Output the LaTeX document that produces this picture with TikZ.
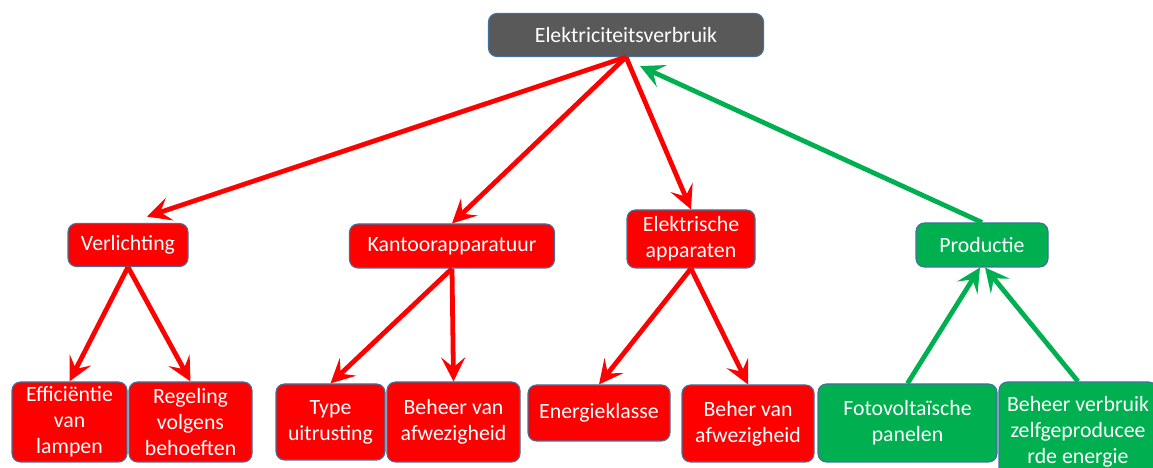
\documentclass[tikz,border=0pt]{standalone}
\usepackage{fontspec}
\setmainfont{Carlito}
\usepackage{tkz-euclide}
\usepackage{tikz}
\usetikzlibrary{arrows.meta}

\definecolor{rood}{HTML}{FF0000}
\definecolor{groen}{HTML}{00B050}
\definecolor{grijs}{HTML}{595959}
\definecolor{rand}{HTML}{41719C}

\tikzset{
  blok/.style={draw=rand, line width=0.8pt, rounded corners=6pt, text=white,
    align=center, inner sep=2pt, font=\fontsize{15.5}{18.5}\selectfont},
  rblok/.style={blok, fill=rood},
  gblok/.style={blok, fill=groen},
  pijl/.style={line width=3.4pt, -{Stealth[length=17pt, width=17pt, inset=7pt]}},
}

\begin{document}
\begin{tikzpicture}[scale=1]
    \useasboundingbox (0,0) rectangle (28.825,11.7);
    \tkzDefPoints{15.65/10.825/A,3.2/5.575/B,11.3/5.55/C,17.275/5.725/D,24.55/5.575/F}
    \tkzDefPoints{1.7375/1.15/G,4.7625/1.15/H,8.2625/1.15/I,11.3375/1.15/J}
    \tkzDefPoints{14.975/1.375/K,18.7/1.1125/L,22.6875/1.125/M,26.95/0.9/N}
    \node[blok, fill=grijs, minimum width=6.875cm, minimum height=1.075cm] (verbruik) at (A) {Elektriciteitsverbruik};
    \node[rblok, minimum width=3cm, minimum height=1.075cm] (verlichting) at (B) {Verlichting};
    \node[rblok, minimum width=5.125cm, minimum height=1.1cm] (kantoor) at (C) {Kantoorapparatuur};
    \node[rblok, minimum width=3.2cm, minimum height=1.45cm] (apparaten) at (D) {Elektrische\\apparaten};
    \node[gblok, minimum width=3.3cm, minimum height=1.1cm] (productie) at (F) {Productie};
    \node[rblok, minimum width=2.875cm, minimum height=2cm] (efficientie) at (G) {Efficiëntie\\van\\lampen};
    \node[rblok, minimum width=3.075cm, minimum height=2cm] (regeling) at (H) {Regeling\\volgens\\behoeften};
    \node[rblok, minimum width=2.725cm, minimum height=1.9cm] (type) at (I) {Type\\uitrusting};
    \node[rblok, minimum width=3.325cm, minimum height=2cm] (beheer) at (J) {Beheer van\\afwezigheid};
    \node[rblok, minimum width=3.55cm, minimum height=1.4cm] (klasse) at (K) {Energieklasse};
    \node[rblok, minimum width=3.3cm, minimum height=1.925cm] (beher) at (L) {Beher van\\afwezigheid};
    \node[gblok, minimum width=4.475cm, minimum height=1.95cm] (panelen) at (M) {Fotovoltaïsche\\panelen};
    \node[gblok, minimum width=3.95cm, minimum height=2.5cm] (zelf) at (N) {Beheer verbruik\\zelfgeproducee\\rde energie};
    \draw[pijl, rood, shorten >=0.5cm] (verbruik.south) -- (verlichting.north);
    \draw[pijl, rood] (verbruik.south) -- (kantoor.north);
    \draw[pijl, rood] (verbruik.south) -- (apparaten.north);
    \draw[pijl, groen] (productie.north) -- ([shift={(0.35cm,-0.225cm)}]verbruik.south);
    \draw[pijl, rood] (verlichting.south) -- (efficientie.north);
    \draw[pijl, rood] (verlichting.south) -- (regeling.north);
    \draw[pijl, rood] (kantoor.south) -- (type.north);
    \draw[pijl, rood] (kantoor.south) -- (beheer.north);
    \draw[pijl, rood] (apparaten.south) -- (klasse.north);
    \draw[pijl, rood] (apparaten.south) -- (beher.north);
    \draw[pijl, groen] (panelen.north) -- ([xshift=-0.05cm]productie.south);
    \draw[pijl, groen] (zelf.north) -- ([xshift=0.075cm]productie.south);
\end{tikzpicture}
\end{document}
